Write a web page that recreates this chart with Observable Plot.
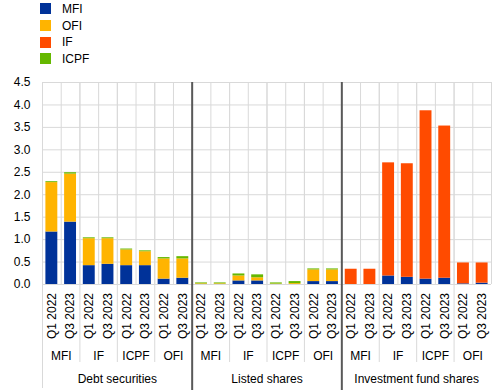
<!DOCTYPE html>
<html><head><meta charset="utf-8">
<script src="https://cdn.jsdelivr.net/npm/d3@7"></script>
<script src="https://cdn.jsdelivr.net/npm/@observablehq/plot@0.6"></script>
<style>
body{margin:0;background:#fff;font-family:"Liberation Sans",Arial,sans-serif;}
#wrap{position:relative;width:496px;height:390px;overflow:hidden;}
#chart{position:absolute;left:0;top:0;}
#legend{position:absolute;left:39.5px;top:0.5px;font-size:12px;color:#000;z-index:2;}
.item{display:flex;align-items:center;height:16.7px;}
.sw{width:11px;height:11px;margin-right:11.5px;}
</style></head><body>
<div id="wrap"><div id="chart"></div><div id="legend"></div></div>
<script>
const groups = ["Debt securities", "Listed shares", "Investment fund shares"];
const sectors = ["MFI", "IF", "ICPF", "OFI"];
const periods = ["Q1 2022", "Q3 2023"];
const series = ["MFI", "OFI", "IF", "ICPF"];
const colors = ["#003299", "#ffb400", "#ff4b00", "#65b800"];
const legendOrder = ["MFI", "OFI", "IF", "ICPF"];
const yTicks = [0, 0.5, 1, 1.5, 2, 2.5, 3, 3.5, 4, 4.5];

// bar order: group > sector > period
const mfiValues  = [1.17, 1.39, 0.42, 0.45, 0.42, 0.42, 0.12, 0.14,
                    0, 0, 0.08, 0.08, 0, 0, 0.065, 0.065,
                    0, 0, 0.19, 0.16, 0.12, 0.14, 0.015, 0.03];
const ofiValues  = [1.10, 1.07, 0.60, 0.57, 0.35, 0.31, 0.45, 0.43,
                    0.015, 0.015, 0.11, 0.07, 0.01, 0.02, 0.26, 0.26,
                    0, 0, 0, 0, 0, 0, 0, 0];
const ifValues   = [0, 0, 0, 0, 0, 0, 0, 0,
                    0, 0, 0, 0, 0, 0, 0, 0,
                    0.34, 0.34, 2.52, 2.53, 3.75, 3.39, 0.465, 0.45];
const icpfValues = [0.02, 0.03, 0.02, 0.02, 0.02, 0.02, 0.03, 0.05,
                    0.02, 0.02, 0.045, 0.065, 0.025, 0.045, 0.022, 0.022,
                    0, 0, 0, 0, 0, 0, 0, 0];
const valuesBySeries = {MFI: mfiValues, OFI: ofiValues, IF: ifValues, ICPF: icpfValues};

const barKeys = [];
groups.forEach((g, gi) => sectors.forEach((s, si) => periods.forEach((p, pi) => {
  barKeys.push({i: barKeys.length, group: g, sector: s, period: p});
})));
const n = barKeys.length;
const rows = [];
barKeys.forEach(b => series.forEach(sr => rows.push({i: b.i, series: sr, value: valuesBySeries[sr][b.i]})));

const sectorKeys = [];
groups.forEach((g, gi) => sectors.forEach((s, si) => sectorKeys.push({k: sectorKeys.length, sector: s})));
const groupKeys = groups.map((g, gi) => ({gi, group: g}));
const perSector = periods.length, perGroup = sectors.length * periods.length;

const allLines = d3.range(n + 1);
const sectorBounds = d3.range(0, n + 1, perSector).filter(v => v % perGroup !== 0);
const groupBounds = d3.range(perGroup, n, perGroup);

const light = "#d9d9d9";
const plot = Plot.plot({
  width: 496, height: 390,
  marginTop: 82, marginBottom: 106, marginLeft: 42, marginRight: 5,
  style: {fontFamily: "Liberation Sans, Arial, sans-serif", fontSize: "12px", color: "#000", background: "transparent"},
  x: {type: "linear", domain: [0, n], axis: null},
  y: {domain: [0, 4.5], ticks: yTicks, tickFormat: d3.format(".1f"), tickSize: 0, tickPadding: 12, label: null},
  color: {domain: series, range: colors},
  marks: [
    Plot.ruleY(yTicks, {stroke: light, strokeWidth: 1}),
    Plot.ruleX(allLines, {stroke: light, strokeWidth: 1}),
    Plot.ruleX(sectorBounds, {stroke: light, strokeWidth: 1, insetBottom: -78}),
    Plot.ruleX([0], {stroke: light, strokeWidth: 1, insetBottom: -104}),
    Plot.rectY(rows, {x1: "i", x2: d => d.i + 1, y: "value", fill: "series", insetLeft: 3.4, insetRight: 3.4}),
    Plot.ruleX(groupBounds, {stroke: "#595959", strokeWidth: 2, insetBottom: -106}),
    Plot.text(barKeys, {x: d => d.i + 0.5, y: 0, text: "period", rotate: -90, textAnchor: "end", dy: 8.5, fill: "#000"}),
    Plot.text(sectorKeys, {x: d => d.k * perSector + perSector / 2, y: 0, text: "sector", dy: 71.6, fill: "#000"}),
    Plot.text(groupKeys, {x: d => d.gi * perGroup + perGroup / 2, y: 0, text: "group", dy: 94.5, fill: "#000"})
  ]
});
document.getElementById("chart").appendChild(plot);

const legend = document.getElementById("legend");
legendOrder.forEach(s => {
  const it = document.createElement("div"); it.className = "item";
  const sw = document.createElement("div"); sw.className = "sw";
  sw.style.background = colors[series.indexOf(s)];
  const t = document.createElement("span"); t.textContent = s;
  it.appendChild(sw); it.appendChild(t); legend.appendChild(it);
});
</script>
</body></html>
